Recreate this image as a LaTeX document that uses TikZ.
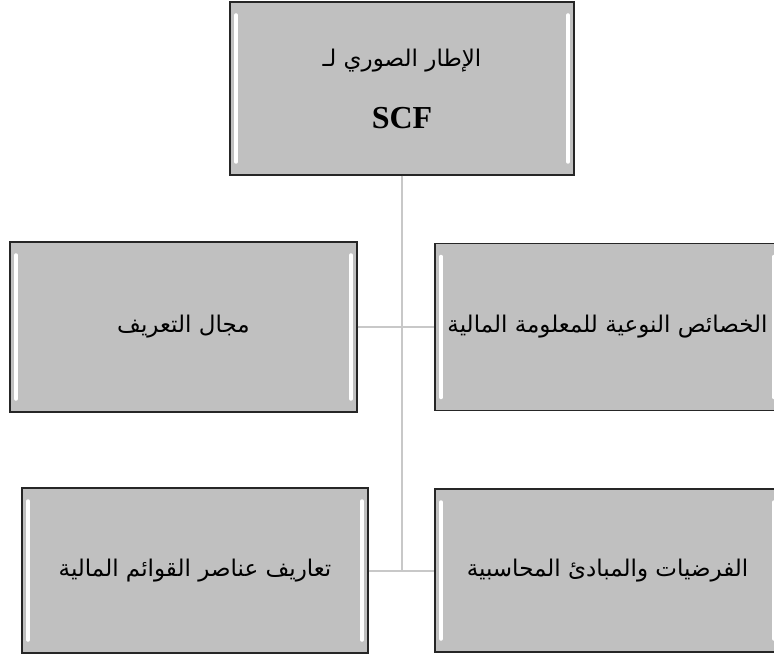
\documentclass[tikz,border=0pt]{standalone}
\usepackage{fontspec}
\newfontfamily\arabicfont[Script=Arabic]{DejaVu Sans}
\newfontfamily\latinfont{Liberation Serif}
\TeXXeTstate=1
\definecolor{boxgray}{RGB}{192,192,192}
\definecolor{linkgray}{RGB}{200,200,200}
\tikzset{
  block/.style={draw=black!85, line width=1.2pt, fill=boxgray, inner sep=0pt,
    font=\arabicfont\fontsize{23}{27}\selectfont,
    path picture={
      \draw[white, line width=3.5pt, line cap=round]
        ([xshift=6pt,yshift=-13pt]path picture bounding box.north west) --
        ([xshift=6pt,yshift=13pt]path picture bounding box.south west);
      \draw[white, line width=3.5pt, line cap=round]
        ([xshift=-6pt,yshift=-13pt]path picture bounding box.north east) --
        ([xshift=-6pt,yshift=13pt]path picture bounding box.south east);
    }},
  link/.style={draw=linkgray, line width=2pt}
}
\begin{document}
\begin{tikzpicture}[x=1pt,y=-1pt]
  \useasboundingbox (0,0) rectangle (774,660);
  \clip (0,0) rectangle (774,660);
  \node[block, minimum width=344pt, minimum height=173pt, align=center] (scf) at (402,88.5)
    {\beginR الإطار الصوري لـ\endR\\[35pt]{\latinfont\bfseries\fontsize{32}{36}\selectfont SCF}};
  \node[block, minimum width=347pt, minimum height=170pt] (tarif) at (183.5,327) {\beginR مجال التعريف\endR};
  \node[block, minimum width=345pt, minimum height=167pt] (khasais) at (607.5,327) {\beginR الخصائص النوعية للمعلومة المالية\endR};
  \node[block, minimum width=346pt, minimum height=165pt] (anasir) at (195,570.5) {\beginR تعاريف عناصر القوائم المالية\endR};
  \node[block, minimum width=345pt, minimum height=163pt] (furud) at (607.5,570.5) {\beginR الفرضيات والمبادئ المحاسبية\endR};
  \coordinate (junction) at (402,570.5);

  \draw[link] (scf) -- (junction);
  \draw[link] (tarif) -- (khasais); \draw[link] (anasir) -- (furud);
\end{tikzpicture}
\end{document}
